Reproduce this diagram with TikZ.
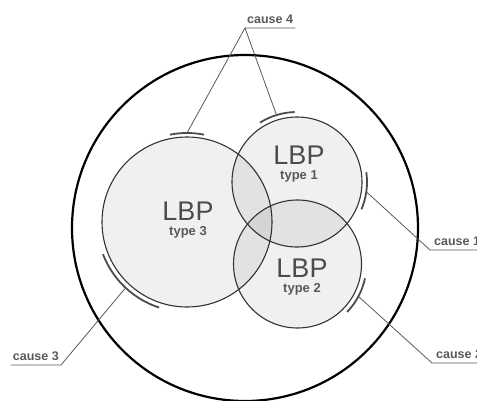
\documentclass[tikz,border=0pt]{standalone}
\usepackage{fontspec}
\setsansfont{Liberation Sans}
\usepackage{tikz}
\usetikzlibrary{positioning, calc}

\begin{document}
\begin{tikzpicture}[
                x=1pt, y=1pt,
                world/.style={draw, circle, line width=2.2pt, inner sep=0pt},
                zone/.style={draw=black!80, circle, line width=1.1pt, inner sep=0pt,
                             fill=black, fill opacity=0.06, text opacity=1},
                big/.style={font=\sffamily\fontsize{27}{28}\selectfont, text=black!70, inner sep=0pt},
                small/.style={font=\sffamily\bfseries\fontsize{13}{14}\selectfont, text=black!65, inner sep=0pt},
                tab/.style={draw=black!70, line width=1.8pt},
                lead/.style={draw=black!65, line width=0.8pt},
                cause/.style={font=\sffamily\bfseries\fontsize{12.5}{13}\selectfont, text=black!65,
                              inner xsep=2pt, inner ysep=4.5pt},
            ]

                \useasboundingbox (0,0) rectangle (477,400);

                % Circles
                \node[world, minimum size=346pt] (world) at (245,172) {};
                \node[zone, minimum size=170pt] (c3) at (187,178) {};
                \node[zone, minimum size=130pt] (c1) at (297,218) {};
                \node[zone, minimum size=128pt] (c2) at (297.5,136) {};

                % Texts
                \node[big] (l3) at (188,189) {LBP};
                \node[small, below=6pt of l3] (t3) {type 3};
                \node[big] (l1) at (299,245) {LBP};
                \node[small, below=6pt of l1] (t1) {type 1};
                \node[big] (l2) at (302,132) {LBP};
                \node[small, below=6pt of l2] (t2) {type 2};

                % Tabs
                \draw[tab] ($(c3.center)+(79:89pt)$) arc[start angle=79, end angle=101, radius=89pt];
                \draw[tab] ($(c3.center)+(201:90pt)$) arc[start angle=201, end angle=252, radius=90pt];
                \draw[tab] ($(c1.center)+(92:70pt)$) arc[start angle=92, end angle=122, radius=70pt];
                \draw[tab] ($(c1.center)+(8:70pt)$) arc[start angle=8, end angle=-23, radius=70pt];
                \draw[tab] ($(c2.center)+(-12:69pt)$) arc[start angle=-12, end angle=-44, radius=69pt];

                \coordinate (p3top) at ($(c3.center)+(90:89pt)$);
                \coordinate (p3low) at ($(c3.center)+(227:91pt)$);
                \coordinate (p1top) at ($(c1.center)+(107:70pt)$);
                \coordinate (p1right) at ($(c1.center)+(-8:70pt)$);
                \coordinate (p2right) at ($(c2.center)+(-28:69pt)$);

                % Causes
                \node[cause, anchor=south west] (cause4) at (245,372) {cause 4};
                \node[cause, anchor=south west, inner xsep=4pt] (cause1) at (430,150) {cause 1};
                \node[cause, anchor=south west, inner xsep=4pt] (cause2) at (432,37) {cause 2};
                \node[cause, anchor=south east] (cause3) at (61,35) {cause 3};

                \draw[lead] (cause4.south east) -- (cause4.south west) -- (p3top);
                \draw[lead] (cause4.south west) -- (p1top);
                \draw[lead] (p1right) -- (cause1.south west) -- (cause1.south east);
                \draw[lead] (p2right) -- (cause2.south west) -- (cause2.south east);
                \draw[lead] (p3low) -- (cause3.south east) -- (cause3.south west);
            \end{tikzpicture}
\end{document}
